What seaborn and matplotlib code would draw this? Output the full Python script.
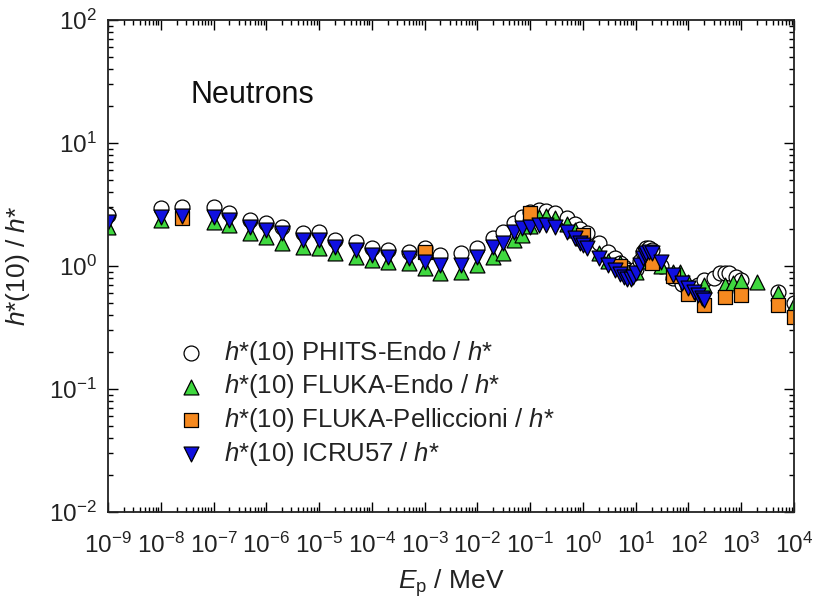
import matplotlib
matplotlib.use("Agg")
import matplotlib.pyplot as plt
import seaborn as sns
from matplotlib.ticker import LogLocator, NullFormatter

# PHITS-Endo (open circles)
E_phits = [1e-9, 1e-8, 2.53e-8, 1e-7, 2e-7, 5e-7, 1e-6, 2e-6, 5e-6, 1e-5, 2e-5, 5e-5,
           1e-4, 2e-4, 5e-4, 1e-3, 2e-3, 5e-3, 1e-2, 2e-2, 3e-2, 5e-2, 7e-2, 0.1, 0.15,
           0.2, 0.3, 0.5, 0.7, 0.9, 1.2, 2, 3, 4, 5, 6, 7, 8, 10, 12, 14, 16, 18, 20,
           30, 50, 75, 100, 150, 200, 300, 400, 500, 600, 800, 1000, 5000, 10000]
R_phits = [2.60, 2.96, 3.02, 3.02, 2.70, 2.37, 2.24, 2.07, 1.85, 1.89, 1.63, 1.57,
           1.40, 1.35, 1.30, 1.40, 1.23, 1.28, 1.40, 1.69, 1.89, 2.24, 2.50, 2.75, 2.85,
           2.80, 2.70, 2.45, 2.20, 2.00, 1.85, 1.55, 1.30, 1.15, 1.05, 0.98, 0.92, 0.90,
           0.95, 1.10, 1.30, 1.40, 1.40, 1.35, 1.00, 0.80, 0.72, 0.68, 0.70, 0.77, 0.80,
           0.88, 0.88, 0.88, 0.81, 0.77, 0.61, 0.50]

# FLUKA-Endo (green up triangles)
E_fendo = [1e-9, 1e-8, 1e-7, 2e-7, 5e-7, 1e-6, 2e-6, 5e-6, 1e-5, 2e-5, 5e-5, 1e-4,
           2e-4, 5e-4, 1e-3, 2e-3, 5e-3, 1e-2, 2e-2, 3e-2, 5e-2, 7e-2, 0.1, 0.15, 0.2,
           0.3, 0.5, 0.7, 1, 2, 3, 5, 10, 14, 20, 30, 50, 70, 100, 200, 500, 700, 1000,
           2000, 5000, 10000]
R_fendo = [2.07, 2.37, 2.28, 2.15, 1.85, 1.72, 1.54, 1.43, 1.40, 1.28, 1.18, 1.12,
           1.08, 1.06, 0.96, 0.88, 0.89, 1.02, 1.18, 1.28, 1.63, 1.79, 2.10, 2.50, 2.55,
           2.45, 2.20, 1.95, 1.70, 1.28, 1.10, 1.06, 0.90, 1.10, 1.20, 1.00, 0.90, 0.89,
           0.74, 0.70, 0.70, 0.73, 0.76, 0.74, 0.60, 0.48]

# FLUKA-Pelliccioni (orange squares)
E_fpel = [2.53e-8, 1e-3, 0.1, 1, 5, 20, 50, 100, 200, 500, 1000, 5000, 10000]
R_fpel = [2.46, 1.30, 2.70, 1.79, 1.00, 1.06, 0.83, 0.59, 0.48, 0.56, 0.58, 0.48, 0.385]

# ICRU57 (blue down triangles)
E_icru = [1e-9, 1e-8, 2.53e-8, 1e-7, 2e-7, 5e-7, 1e-6, 2e-6, 5e-6, 1e-5, 2e-5, 5e-5,
          1e-4, 2e-4, 5e-4, 1e-3, 2e-3, 5e-3, 1e-2, 2e-2, 3e-2, 5e-2, 7e-2, 0.1, 0.15,
          0.2, 0.3, 0.5, 0.7, 0.9, 1, 1.2, 2, 3, 4, 5, 6, 7, 8, 9, 10, 12, 14, 15, 16,
          18, 20, 30, 50, 75, 100, 130, 150, 180, 200]
R_icru = [2.28, 2.50, 2.55, 2.50, 2.37, 2.07, 1.96, 1.85, 1.63, 1.63, 1.43, 1.35,
          1.23, 1.18, 1.16, 1.08, 1.02, 1.02, 1.18, 1.43, 1.54, 1.89, 2.04, 2.07, 2.15,
          2.15, 2.07, 1.89, 1.69, 1.54, 1.48, 1.40, 1.16, 1.02, 0.93, 0.86, 0.81, 0.78,
          0.78, 0.81, 0.88, 1.02, 1.16, 1.23, 1.28, 1.30, 1.28, 1.08, 0.85, 0.73, 0.66,
          0.61, 0.58, 0.55, 0.53]

labels = [r"$\mathit{h}$*(10) PHITS-Endo / $\mathit{h}$*",
          r"$\mathit{h}$*(10) FLUKA-Endo / $\mathit{h}$*",
          r"$\mathit{h}$*(10) FLUKA-Pelliccioni / $\mathit{h}$*",
          r"$\mathit{h}$*(10) ICRU57 / $\mathit{h}$*"]

sns.set_theme(style="ticks")
plt.rcParams['font.family'] = ['Liberation Sans', 'DejaVu Sans']
plt.rcParams['mathtext.fontset'] = 'custom'
plt.rcParams['mathtext.rm'] = 'Liberation Sans'
plt.rcParams['mathtext.it'] = 'Liberation Sans:italic'
plt.rcParams['mathtext.default'] = 'regular'

fig = plt.figure(figsize=(8.15, 6.03), dpi=100)
ax = fig.add_axes([0.1325, 0.151, 0.8417, 0.8159])

sns.scatterplot(x=E_phits, y=R_phits, marker='o', s=115, color='white',
                edgecolor='black', linewidth=0.9, label=labels[0], ax=ax)
sns.scatterplot(x=E_fendo, y=R_fendo, marker='^', s=115, color='#3fd83f',
                edgecolor='black', linewidth=0.9, label=labels[1], ax=ax)
sns.scatterplot(x=E_fpel, y=R_fpel, marker='s', s=90, color='#f5891f',
                edgecolor='black', linewidth=0.9, label=labels[2], ax=ax)
sns.scatterplot(x=E_icru, y=R_icru, marker='v', s=115, color='#1010e0',
                edgecolor='black', linewidth=0.9, label=labels[3], ax=ax)

ax.set_xscale('log')
ax.set_yscale('log')
ax.set_xlim(1e-9, 1e4)
ax.set_ylim(1e-2, 1e2)
ax.xaxis.set_major_locator(LogLocator(base=10, numticks=20))
ax.xaxis.set_minor_locator(LogLocator(base=10, subs=range(2, 10), numticks=200))
ax.xaxis.set_minor_formatter(NullFormatter())
ax.yaxis.set_minor_locator(LogLocator(base=10, subs=range(2, 10), numticks=50))
ax.yaxis.set_minor_formatter(NullFormatter())

ax.tick_params(which='both', direction='in', top=True, right=True, color='black',
               width=1.0, labelsize=17.5, labelcolor='#222222')
ax.tick_params(which='major', length=7)
ax.tick_params(axis='x', which='major', pad=15)
ax.tick_params(axis='y', which='major', pad=8)
ax.tick_params(which='minor', length=3.5)
for sp in ax.spines.values():
    sp.set_color('#222222')
    sp.set_linewidth(1.3)

ax.set_xlabel(r"$\mathit{E}_\mathrm{p}$ / MeV", fontsize=19, color='#222222', labelpad=7)
ax.set_ylabel(r"$\mathit{h}$*(10) / $\mathit{h}$*", fontsize=19, color='#222222', labelpad=12)

ax.text(0.12, 0.848, "Neutrons", transform=ax.transAxes, fontsize=22,
        va='center', ha='left', color='#111111')

ax.legend(loc='upper left', bbox_to_anchor=(0.102, 0.352), frameon=False,
          fontsize=18.5, handlelength=1.0, handletextpad=0.8, labelspacing=0.22,
          borderpad=0, borderaxespad=0, labelcolor='#222222')

fig.savefig("out.png", dpi=100)
